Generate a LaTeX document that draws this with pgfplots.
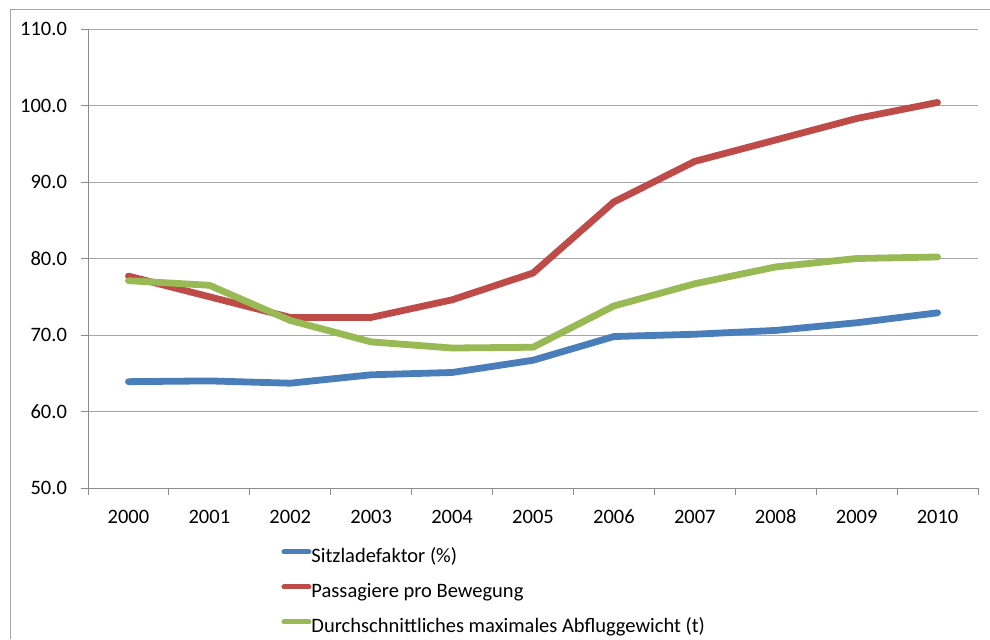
\documentclass[border=0pt]{standalone}
\usepackage{fontspec}
\setmainfont{Carlito}
\usepackage{pgfplots}
\pgfplotsset{compat=1.18}

\definecolor{sblue}{HTML}{4A7EBB}
\definecolor{sred}{HTML}{BE4B48}
\definecolor{sgreen}{HTML}{98B954}
\definecolor{gridgray}{HTML}{A6A6A6}
\definecolor{axgray}{HTML}{8C8C8C}

\begin{document}
\begin{tikzpicture}[font=\fontsize{10.25}{12}\selectfont]
\path[use as bounding box] (0,0) rectangle (495pt,319.5pt);
% frame of the chart area
\draw[gridgray, line width=0.5pt] (5pt,0) -- (5pt,314.5pt) -- (495pt,314.5pt);
\begin{axis}[
  at={(44pt,75.5pt)}, anchor=south west,
  scale only axis, width=445pt, height=229.5pt,
  xmin=-0.5, xmax=10.5, ymin=50, ymax=110,
  xtick={-0.5,0.5,1.5,2.5,3.5,4.5,5.5,6.5,7.5,8.5,9.5,10.5},
  x tick label as interval,
  xticklabels={2000,2001,2002,2003,2004,2005,2006,2007,2008,2009,2010},
  ytick={50,60,...,110},
  axis x line*=bottom, axis y line*=left,
  axis line style={axgray, line width=0.5pt, -},
  tick align=outside, major tick length=3.5pt,
  tick style={axgray, line width=0.5pt},
  ymajorgrids, grid style={gridgray, line width=0.5pt},
  /pgf/number format/assume math mode=true,
  yticklabel style={/pgf/number format/fixed, /pgf/number format/fixed zerofill, /pgf/number format/precision=1, xshift=-3.5pt},
  xticklabel style={yshift=-4pt, text height=6.6pt, text depth=0pt},
  legend style={draw=none, fill=none, at={(0.2102,-0.121)}, anchor=north west,
    row sep=7.5pt, nodes={inner sep=0pt, text height=7.5pt, text depth=2.5pt},
    /tikz/every odd column/.append style={column sep=0pt}},
  legend cell align=left,
  legend image code/.code={\draw[#1, line width=2.5pt, line cap=round] (1.25pt,3pt) -- (13.75pt,3pt);},
  every axis plot/.append style={line width=3.4pt, line cap=round, line join=round},
]
\addplot[sblue] coordinates {(0,63.9) (1,64.0) (2,63.7) (3,64.8) (4,65.1) (5,66.7) (6,69.8) (7,70.1) (8,70.6) (9,71.6) (10,72.9)};
\addlegendentry{Sitzladefaktor (\%)}
\addplot[sred] coordinates {(0,77.7) (1,75.0) (2,72.3) (3,72.3) (4,74.6) (5,78.1) (6,87.4) (7,92.7) (8,95.5) (9,98.3) (10,100.4)};
\addlegendentry{Passagiere pro Bewegung}
\addplot[sgreen] coordinates {(0,77.1) (1,76.5) (2,71.9) (3,69.1) (4,68.3) (5,68.4) (6,73.8) (7,76.7) (8,78.9) (9,80.0) (10,80.2)};
\addlegendentry{Durchschnittliches maximales Abfluggewicht (t)}
\end{axis}
\end{tikzpicture}
\end{document}
